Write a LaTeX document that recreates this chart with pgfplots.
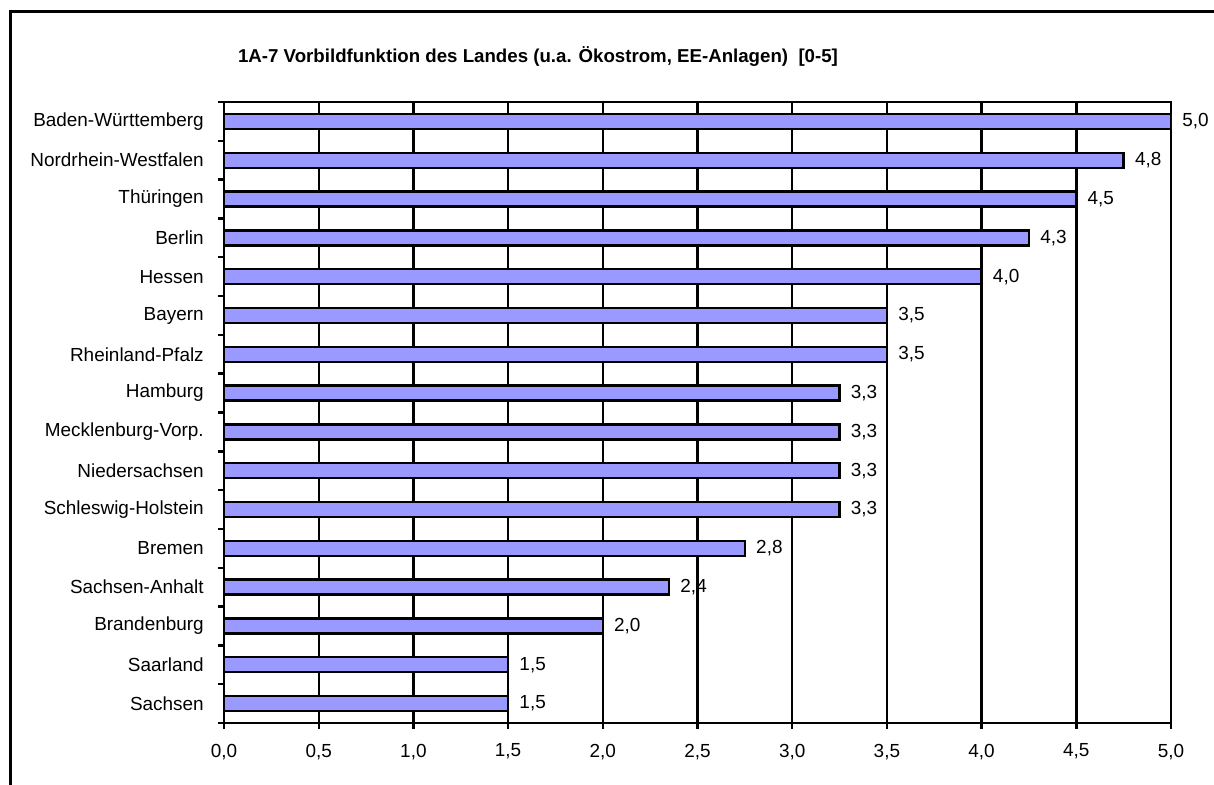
\documentclass[border=0pt]{standalone}
\usepackage{fontspec}
\setmainfont{Liberation Sans}
\usepackage{pgfplots}
\pgfplotsset{compat=1.18}
\definecolor{barblue}{HTML}{9999FF}
\begin{document}
\begin{tikzpicture}
% 1 px of the reference = 0.75pt
\useasboundingbox (0,0) rectangle (910.5pt,-588.75pt);
\draw[line width=1.6pt] (7.875pt,-588.75pt) -- (7.875pt,-8.625pt) -- (910.5pt,-8.625pt);
\node[font=\bfseries\fontsize{14}{16}\selectfont] at (403.5pt,-42.75pt)
  {1A-7 Vorbildfunktion des Landes (u.a. Ökostrom, EE-Anlagen)\ \ [0-5]};
\begin{axis}[
  at={(168pt,-542.25pt)}, anchor=south west,
  scale only axis, width=710.25pt, height=465.75pt,
  xmin=0, xmax=5, ymin=0.5, ymax=16.5,
  xbar, bar width=11.25pt,
  axis line style={line width=2pt},
  xmajorgrids, grid style={black, line width=1.8pt},
  tick align=outside, major tick length=4.5pt, tick pos=left,
  tick style={black, line width=1.8pt},
  xtick={0,0.5,...,5},
  xticklabel style={inner sep=0pt, yshift=-11pt},
  ytick={0.5,1.5,...,16.5}, yticklabels={},
  extra y ticks={1,...,16},
  extra y tick style={major tick length=0pt, yticklabel style={inner sep=0pt, xshift=-15pt}},
  extra y tick labels={Sachsen,Saarland,Brandenburg,Sachsen-Anhalt,Bremen,
    Schleswig-Holstein,Niedersachsen,Mecklenburg-Vorp.,Hamburg,Rheinland-Pfalz,
    Bayern,Hessen,Berlin,Thüringen,Nordrhein-Westfalen,Baden-Württemberg},
  tick label style={font=\fontsize{14.2}{16}\selectfont},
  /pgf/number format/.cd, use comma, fixed, fixed zerofill, precision=1, assume math mode=true,
  /pgfplots/.cd,
  nodes near coords, point meta=explicit symbolic,
  every node near coord/.append style={anchor=west, xshift=4.3pt, font=\fontsize{14.2}{16}\selectfont, black},
]
\addplot[draw=black, line width=1.8pt, fill=barblue] table[x=v, y=y, meta=lab] {
y v lab
1 1.5 1,5
2 1.5 1,5
3 2.0 2,0
4 2.35 2,4
5 2.75 2,8
6 3.25 3,3
7 3.25 3,3
8 3.25 3,3
9 3.25 3,3
10 3.5 3,5
11 3.5 3,5
12 4.0 4,0
13 4.25 4,3
14 4.5 4,5
15 4.75 4,8
16 5.0 5,0
};
\end{axis}
\end{tikzpicture}
\end{document}
